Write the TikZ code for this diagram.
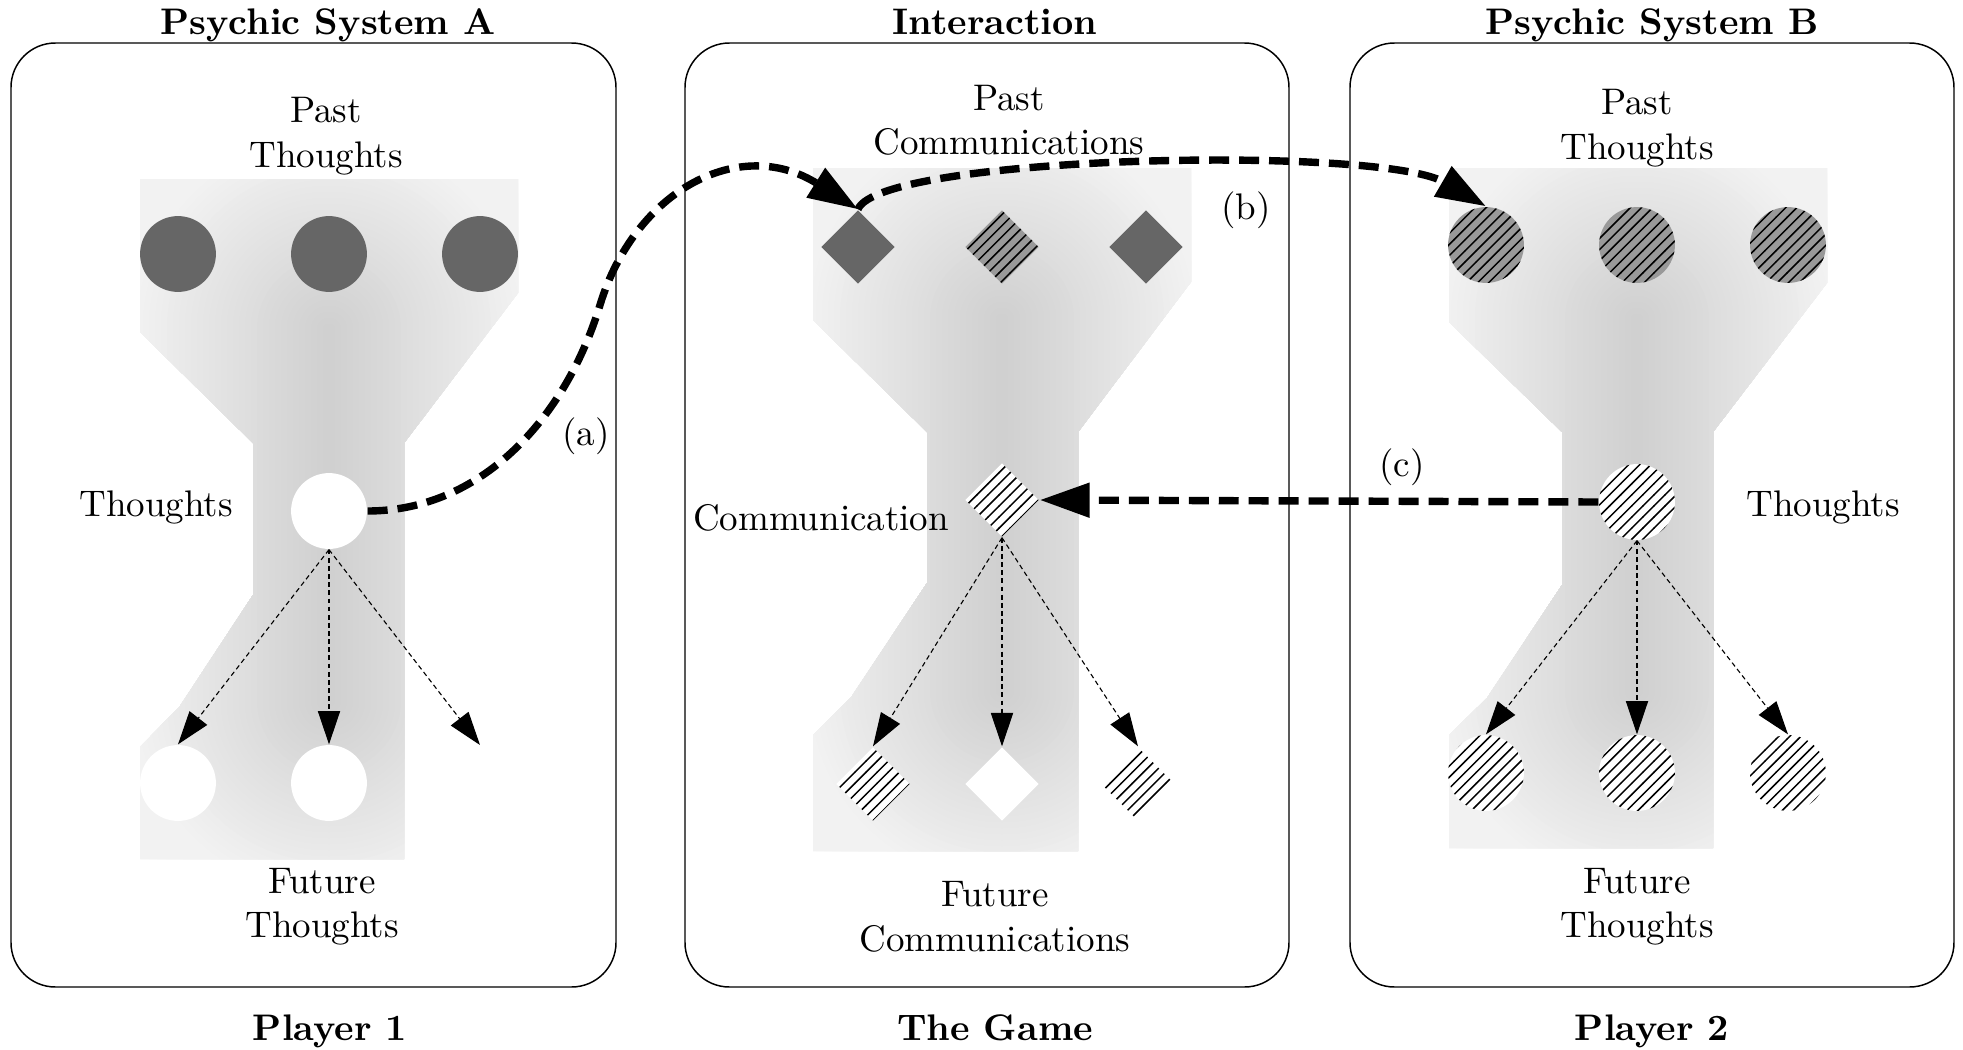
\documentclass[tikz,border=0pt]{standalone}
\usepackage{tikz}
\usetikzlibrary{shapes.geometric,patterns,arrows.meta}

% soft grey fill of one funnel, darker towards its middle line
\newcommand\funnelfade[3]{%
  \foreach \r in {270,264,...,6}{%
    \pgfmathsetmacro\fw{0.5406*\r}%
    \pgfmathsetmacro\fc{max(5,19-0.07*\r)}%
    \draw[line width=\fw pt, line cap=round, black!\fc] (#1,#2) -- (#1,#3);
  }}

\begin{document}
\begin{tikzpicture}[x=0.2703pt,y=-0.2703pt,
  panel/.style={draw, line width=0.4pt, rounded corners=12pt},
  title/.style={font=\bfseries, anchor=base},
  lbl/.style={align=center},
  ball/.style={circle, inner sep=0pt, minimum size=20.5pt},
  gem/.style={diamond, inner sep=0pt, minimum width=20pt, minimum height=20pt},
  dark/.style={fill=black!60},
  blank/.style={fill=white},
  hatchw/.style={preaction={fill=white}, pattern=north east lines},
  hatchg/.style={preaction={fill=black!40}, pattern=north east lines},
  flow/.style={line width=0.3pt, dash pattern=on 1.3pt off 0.9pt, -{Triangle[length=9pt,width=6pt]}},
  pass/.style={line width=2pt, dash pattern=on 5.4pt off 2.7pt, -{Triangle[length=13.5pt,width=9pt]}}]
\useasboundingbox (0,0) rectangle (1963,1050);
%
\draw[panel] (11,43) rectangle (616,987);
\draw[panel] (685,43) rectangle (1289,987);
\draw[panel] (1350,43) rectangle (1954,987);
%
\begin{scope}
\clip (140,179) -- (518,179) -- (518,293) -- (404,443) -- (404,859) -- (140,859) -- (140,747) -- (180,706) -- (253,595) -- (253,443) -- (140,332) -- cycle;
\funnelfade{329}{330}{700}
\end{scope}
\begin{scope}
\clip (813,168) -- (1191,168) -- (1191,282) -- (1078,432) -- (1078,851) -- (813,851) -- (813,735) -- (852,696) -- (927,583) -- (927,432) -- (813,320) -- cycle;
\funnelfade{1002}{320}{690}
\end{scope}
\begin{scope}
\clip (1449,168) -- (1827,168) -- (1827,283) -- (1713,432) -- (1713,848) -- (1449,848) -- (1449,735) -- (1487,698) -- (1562,585) -- (1562,432) -- (1449,322) -- cycle;
\funnelfade{1637}{320}{690}
\end{scope}
%
\node[title] (hA) at (328,34) {Psychic System A};
\node[title] (hM) at (995,34) {Interaction};
\node[title] (hB) at (1652,34) {Psychic System B};
\node[title] (gA) at (330,1040) {Player 1};
\node[title] (gM) at (995,1040) {The Game};
\node[title] (gB) at (1652,1040) {Player 2};
%
% psychic system A
\node[ball,dark] (pa1) at (178,254) {};
\node[ball,dark] (pa2) at (329,254) {};
\node[ball,dark] (pa3) at (480,254) {};
\node[ball,blank] (ta) at (329,511) {};
\node[ball,blank] (fa1) at (178,783) {};
\node[ball,blank] (fa2) at (329,783) {};
\coordinate (fa3) at (480,745);
\node[lbl] (lpa) at (326,136) {Past\\Thoughts};
\node[lbl] (lta) at (156,507) {Thoughts};
\node[lbl] (lfa) at (322,907) {Future\\Thoughts};
%
% interaction
\node[gem,dark] (pm1) at (858,247) {};
\node[gem,hatchg] (pm2) at (1002,247) {};
\node[gem,dark] (pm3) at (1146,247) {};
\node[gem,hatchw] (tm) at (1002,500) {};
\node[gem,hatchw] (fm1) at (873,784) {};
\node[gem,blank] (fm2) at (1002,784) {};
\node[gem,hatchw] (fm3) at (1138,784) {};
\node[lbl] (lpm) at (1009,120) {Past\\Communications};
\node[lbl] (ltm) at (821,518) {Communication};
\node[lbl] (lfm) at (995,917) {Future\\Communications};
%
% psychic system B
\node[ball,hatchg] (pb1) at (1486,245) {};
\node[ball,hatchg] (pb2) at (1637,245) {};
\node[ball,hatchg] (pb3) at (1788,245) {};
\node[ball,hatchw] (tb) at (1637,502) {};
\node[ball,hatchw] (fb1) at (1486,773) {};
\node[ball,hatchw] (fb2) at (1637,773) {};
\node[ball,hatchw] (fb3) at (1788,773) {};
\node[lbl] (lpb) at (1637,128) {Past\\Thoughts};
\node[lbl] (ltb) at (1823,507) {Thoughts};
\node[lbl] (lfb) at (1637,907) {Future\\Thoughts};
%
\draw[flow] (ta.south) -- (fa1.north);
\draw[flow] (ta.south) -- (fa2.north);
\draw[flow] (ta.south) -- (fa3);
\draw[flow] (tm.south) -- (fm1.north);
\draw[flow] (tm.south) -- (fm2.north);
\draw[flow] (tm.south) -- (fm3.north);
\draw[flow] (tb.south) -- (fb1.north);
\draw[flow] (tb.south) -- (fb2.north);
\draw[flow] (tb.south) -- (fb3.north);
%
\draw[pass] (ta.east) .. controls (480,511) and (565,420) .. (600,305) .. controls (635,190) and (740,135) .. (pm1.north);
\draw[pass] (pm1.north) .. controls (880,155) and (1380,145) .. (pb1.north);
\draw[pass] (tb.west) -- (tm.east);
\node (la) at (586,436) {(a)};
\node (lb) at (1246,210) {(b)};
\node (lc) at (1402,467) {(c)};
\end{tikzpicture}
\end{document}
